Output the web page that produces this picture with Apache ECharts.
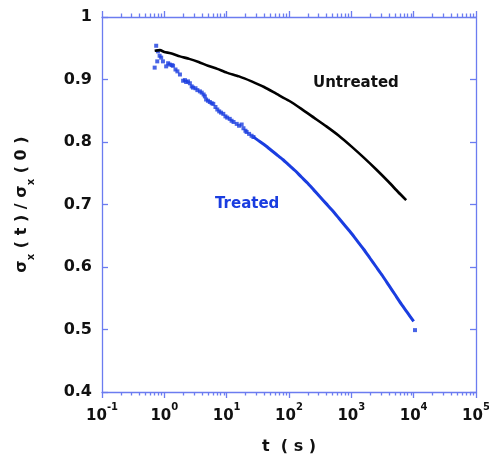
<!DOCTYPE html>
<html>
<head>
<meta charset="utf-8">
<script src="https://cdn.jsdelivr.net/npm/echarts@6/dist/echarts.min.js"></script>
<style>
  html, body { margin: 0; padding: 0; background: #fff; }
  #main { width: 489px; height: 457px; }
</style>
</head>
<body>
<div id="main"></div>
<script>
// Untreated: time (s) and normalised value
var untreatedT = [0.70, 0.85, 1.0, 1.26, 1.78, 2.51, 3.55, 5.01, 7.08, 10, 15.8, 25.1, 39.8,
  63.1, 100, 158, 251, 398, 631, 1000, 1585, 2512, 3981, 5623, 7586];
var untreatedV = [0.946, 0.947, 0.944, 0.942, 0.937, 0.933, 0.928, 0.922, 0.917, 0.911, 0.905, 0.897, 0.888,
  0.877, 0.866, 0.853, 0.839, 0.825, 0.810, 0.793, 0.775, 0.756, 0.736, 0.720, 0.707];

// Treated, noisy early part (shown as separate dots)
var treatedDotT = [0.70, 0.74, 0.77, 0.79, 0.84, 0.89, 0.95, 1.07, 1.15, 1.22, 1.32, 1.38, 1.51, 1.62, 1.78,
  2.00, 2.14, 2.24, 2.40, 2.57, 2.75, 2.88, 3.16, 3.39, 3.72, 3.98, 4.27, 4.47, 4.68, 5.01, 5.37,
  5.75, 6.10, 6.61, 7.08, 7.59, 8.13, 8.83, 9.55, 10.2, 11.2, 12.0, 12.9, 14.5, 15.8, 17.4, 18.6,
  20.0, 20.9, 22.9, 25.1, 26.9, 10500];
var treatedDotV = [0.919, 0.954, 0.929, 0.945, 0.938, 0.935, 0.929, 0.921, 0.926, 0.924, 0.923, 0.922, 0.916,
  0.913, 0.908, 0.898, 0.899, 0.896, 0.897, 0.894, 0.889, 0.887, 0.886, 0.883, 0.881, 0.879, 0.876,
  0.873, 0.868, 0.866, 0.864, 0.862, 0.861, 0.856, 0.852, 0.849, 0.847, 0.845, 0.841, 0.839, 0.837,
  0.834, 0.832, 0.829, 0.826, 0.828, 0.822, 0.818, 0.816, 0.813, 0.810, 0.808, 0.499];

// Treated, dense later part (reads as a thick line)
var treatedLineT = [26.9, 31.6, 39.8, 50.1, 63.1, 79.4, 100, 126, 158, 200, 251, 316, 398, 501, 631, 794,
  1000, 1259, 1585, 1995, 2512, 3162, 3981, 5012, 6310, 7943, 10000];
var treatedLineV = [0.808, 0.803, 0.796, 0.788, 0.780, 0.772, 0.763, 0.754, 0.744, 0.734, 0.723, 0.712, 0.701,
  0.690, 0.678, 0.666, 0.654, 0.641, 0.628, 0.614, 0.600, 0.586, 0.571, 0.556, 0.541, 0.527, 0.513];

var yTicks = [0.4, 0.5, 0.6, 0.7, 0.8, 0.9, 1];

var axisColor = '#6b7cf0';
var blue = '#1a3de0';
var font = 'DejaVu Sans';

function zip(a, b) {
  return a.map(function (v, i) { return [v, b[i]]; });
}

// minor ticks at 2..9 x 10^k
var minorTicks = [];
for (var k = -1; k <= 4; k++) {
  for (var m = 2; m <= 9; m++) minorTicks.push(m * Math.pow(10, k));
}

var chartDom = document.getElementById('main');
var myChart = echarts.init(chartDom);
var option;

var baseX = {
  type: 'log', logBase: 10, min: 0.1, max: 100000,
  splitLine: { show: false }, minorSplitLine: { show: false }
};

option = {
  animation: false,
  grid: { left: 102, right: 13, top: 17, bottom: 65, outerBoundsMode: 'none', containLabel: false },
  xAxis: [
    Object.assign({}, baseX, {
      position: 'bottom',
      axisLine: { lineStyle: { color: axisColor, width: 1.3 } },
      axisTick: { inside: false, length: 6, lineStyle: { color: axisColor, width: 1.3 } },
      axisLabel: {
        margin: 10,
        formatter: function (v) {
          var e = Math.round(Math.log10(v));
          return '{b|10}{sup|' + e + '}';
        },
        rich: {
          b: { fontFamily: font, fontWeight: 'bold', fontSize: 15, color: '#111', lineHeight: 22, verticalAlign: 'bottom' },
          sup: { fontFamily: font, fontWeight: 'bold', fontSize: 10, color: '#111', verticalAlign: 'top' }
        }
      },
      name: 't  ( s )', nameLocation: 'middle', nameGap: 47,
      nameTextStyle: { fontFamily: font, fontWeight: 'bold', fontSize: 16, color: '#111' }
    }),
    Object.assign({}, baseX, {
      position: 'bottom',
      axisLine: { show: false },
      axisTick: { inside: false, length: 3.5, customValues: minorTicks, lineStyle: { color: axisColor, width: 1.3 } },
      axisLabel: { show: false }
    }),
    Object.assign({}, baseX, {
      position: 'top',
      axisLine: { lineStyle: { color: axisColor, width: 1.3 } },
      axisTick: { inside: false, length: 6, lineStyle: { color: axisColor, width: 1.3 } },
      axisLabel: { show: false }
    }),
    Object.assign({}, baseX, {
      position: 'top',
      axisLine: { show: false },
      axisTick: { inside: false, length: 3.5, customValues: minorTicks, lineStyle: { color: axisColor, width: 1.3 } },
      axisLabel: { show: false }
    })
  ],
  yAxis: [
    {
      type: 'value', min: 0.4, max: 1.0, interval: 0.1, position: 'left',
      splitLine: { show: false },
      axisLine: { show: true, lineStyle: { color: axisColor, width: 1.3 } },
      axisTick: { show: true, inside: true, length: 6, customValues: yTicks, lineStyle: { color: axisColor, width: 1.3 } },
      axisLabel: {
        margin: 10, customValues: yTicks,
        fontFamily: font, fontWeight: 'bold', fontSize: 16, color: '#111',
        formatter: function (v) { return String(Math.round(v * 10) / 10); }
      },
      name: '{b|σ}{sub|x}{b| ( t ) / σ}{sub|x}{b| ( 0 )}',
      nameLocation: 'middle', nameGap: 66, nameRotate: 90,
      nameTextStyle: {
        rich: {
          b: { fontFamily: font, fontWeight: 'bold', fontSize: 16, color: '#111', lineHeight: 22, verticalAlign: 'top' },
          sub: { fontFamily: font, fontWeight: 'bold', fontSize: 10, color: '#111', verticalAlign: 'bottom' }
        }
      }
    },
    {
      type: 'value', min: 0.4, max: 1.0, interval: 0.1, position: 'right',
      splitLine: { show: false },
      axisLine: { show: true, lineStyle: { color: axisColor, width: 1.3 } },
      axisTick: { show: true, inside: true, length: 6, lineStyle: { color: axisColor, width: 1.3 } },
      axisLabel: { show: false }
    }
  ],
  graphic: [
    { type: 'text', left: 313, top: 76, style: { text: 'Untreated', fill: '#111', font: 'bold 15px "DejaVu Sans"' } },
    { type: 'text', left: 215, top: 197, style: { text: 'Treated', fill: blue, font: 'bold 15px "DejaVu Sans"' } }
  ],
  series: [
    {
      name: 'Untreated', type: 'line', data: zip(untreatedT, untreatedV),
      symbol: 'none', smooth: 0.2, lineStyle: { color: '#000', width: 2.6 }
    },
    {
      name: 'Treated', type: 'line', data: zip(treatedLineT, treatedLineV),
      symbol: 'none', smooth: 0.2, lineStyle: { color: blue, width: 3 }
    },
    {
      name: 'Treated dots', type: 'scatter', data: zip(treatedDotT, treatedDotV),
      symbol: 'rect', symbolSize: 4, itemStyle: { color: blue }
    }
  ]
};

option && myChart.setOption(option);
</script>
</body>
</html>
